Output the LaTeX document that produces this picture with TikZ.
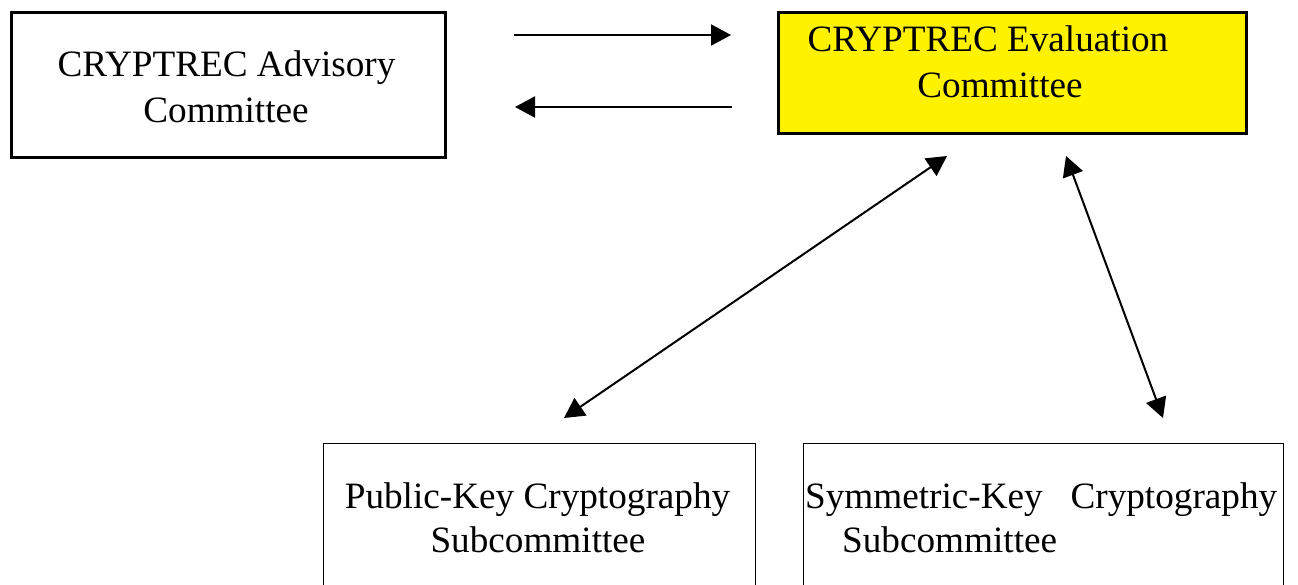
\documentclass[tikz,border=0pt]{standalone}
\usepackage{fontspec}
\setmainfont{Liberation Serif}
\usetikzlibrary{arrows.meta}
\begin{document}
\begin{tikzpicture}[x=1pt,y=-1pt,
  box/.style={draw=black,rectangle,inner sep=0pt,anchor=north west},
  topbox/.style={box,line width=3pt},
  lowbox/.style={box,line width=1.4pt},
  lbl/.style={inner sep=0pt,anchor=base,font=\fontsize{37.2}{44}\selectfont},
  tip/.style={line width=2pt,-{Triangle[length=20pt,width=21pt]}},
  dtip/.style={line width=2pt,{Triangle[length=20pt,width=21pt]}-{Triangle[length=20pt,width=21pt]}}]
\clip (0,0) rectangle (1298,585);
\fill[white] (0,0) rectangle (1298,585);
% boxes
\node[topbox,minimum width=434pt,minimum height=145pt] (adv) at (10,11) {};
\node[topbox,fill=yellow,minimum width=468pt,minimum height=121pt] (eval) at (777,11) {};
\node[lowbox,minimum width=432pt,minimum height=170pt] (pub) at (323,443) {};
\node[lowbox,minimum width=480pt,minimum height=170pt] (sym) at (803,443) {};
% texts
\node[lbl] (advA) at (226.5,77) {CRYPTREC Advisory};
\node[lbl] (advB) at (226,123) {Committee};
\node[lbl] (evA) at (988,52) {CRYPTREC Evaluation};
\node[lbl] (evB) at (1000,98) {Committee};
\node[lbl] (pubA) at (537.5,508) {Public-Key Cryptography};
\node[lbl] (pubB) at (538,552) {Subcommittee};
\node[lbl,anchor=base west] (symA) at (805,508) {\makebox[472pt][s]{Symmetric-Key\hfill Cryptography}};
\node[lbl,anchor=base west] (symB) at (842,552) {Subcommittee};
% arrow endpoints
\coordinate (r1s) at (514,35);
\coordinate (r1e) at (731,35);
\coordinate (r2s) at (732,107);
\coordinate (r2e) at (515,107);
\coordinate (d1a) at (564,418);
\coordinate (d1b) at (947,156);
\coordinate (d2a) at (1066,156);
\coordinate (d2b) at (1163,418);
\draw[tip] (r1s) -- (r1e);
\draw[tip] (r2s) -- (r2e);
\draw[dtip] (d1a) -- (d1b);
\draw[dtip] (d2a) -- (d2b);
\end{tikzpicture}
\end{document}
